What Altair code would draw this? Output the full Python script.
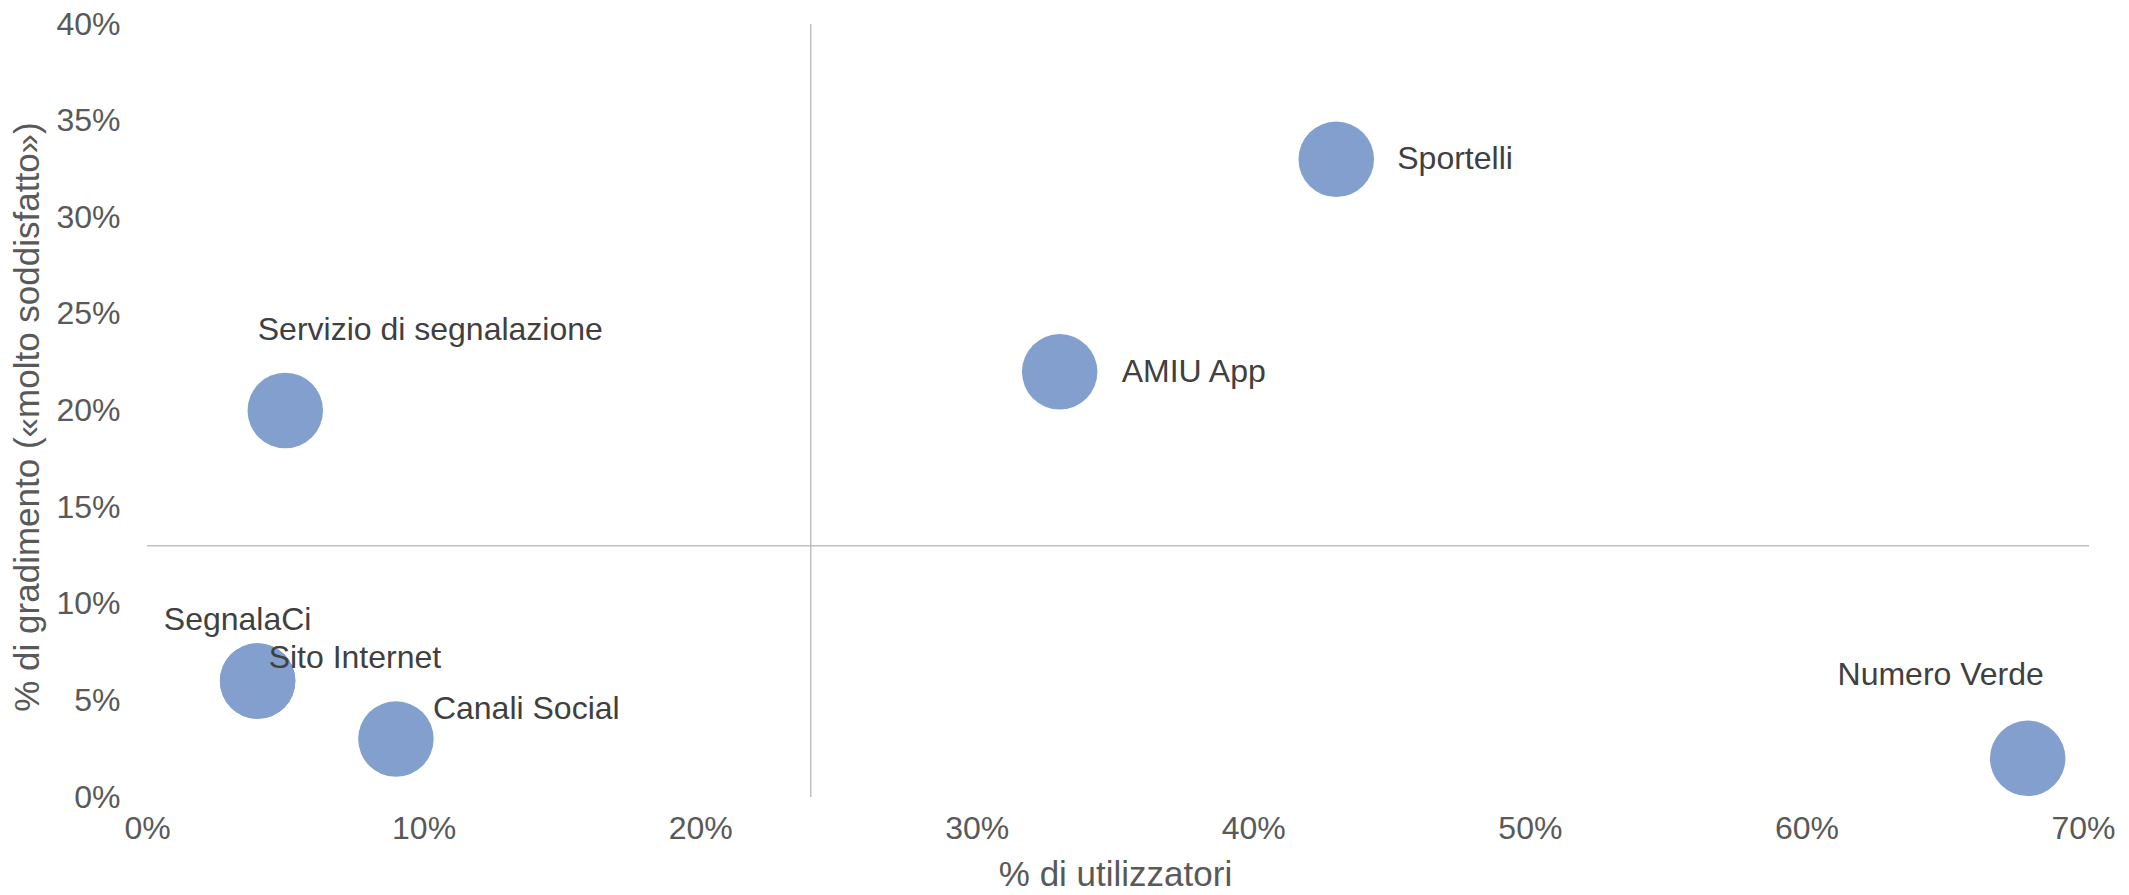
import altair as alt
import pandas as pd

# ---- data ----
canali = ["Sportelli", "AMIU App", "Servizio di segnalazione", "SegnalaCi",
          "Sito Internet", "Canali Social", "Numero Verde"]
utilizzatori = [43, 33, 5, 4, 4, 9, 68]      # % di utilizzatori
gradimento = [33, 22, 20, 6, 6, 3, 2]        # % molto soddisfatto
x_ticks = [0, 10, 20, 30, 40, 50, 60, 70]
y_ticks = [0, 5, 10, 15, 20, 25, 30, 35, 40]
soglia_x = [24]
soglia_y = [13]

df = pd.DataFrame({"canale": canali, "utilizzatori": utilizzatori, "gradimento": gradimento})
df_vx = pd.DataFrame({"v": soglia_x})
df_hy = pd.DataFrame({"v": soglia_y})

FONT = "Liberation Sans"
W, H = 1936, 773

xs = alt.Scale(domain=[0, 70], nice=False, zero=False)
ys = alt.Scale(domain=[0, 40], nice=False, zero=False)

x_axis = alt.Axis(values=x_ticks, labelExpr="datum.value + '%'", title="% di utilizzatori",
                  domain=False, ticks=False, grid=False, labelPadding=16, labelFlush=False,
                  labelFontSize=32, labelFont=FONT, labelColor="#595959",
                  titleFontSize=35, titleFont=FONT, titleColor="#595959", titleFontWeight="normal",
                  titleX=W / 2, titleY=77, titleBaseline="middle", titleAlign="center")
y_axis = alt.Axis(values=y_ticks, labelExpr="datum.value + '%'", title="% di gradimento («molto soddisfatto»)",
                  domain=False, ticks=False, grid=False, labelPadding=27, labelFlush=False,
                  labelFontSize=32, labelFont=FONT, labelColor="#595959",
                  titleFontSize=35, titleFont=FONT, titleColor="#595959", titleFontWeight="normal",
                  titleX=-120, titleY=H / 2 + 6, titleAngle=-90, titleBaseline="middle", titleAlign="center")

base = alt.Chart(df)

points = base.mark_circle(size=5700, opacity=1, color="#839FCE").encode(
    x=alt.X("utilizzatori:Q", scale=xs, axis=x_axis),
    y=alt.Y("gradimento:Q", scale=ys, axis=y_axis),
)

vline = alt.Chart(df_vx).mark_rule(color="#BFBFBF", strokeWidth=1.5).encode(
    x=alt.X("v:Q", scale=xs), y=alt.value(0), y2=alt.value(H)
)
hline = alt.Chart(df_hy).mark_rule(color="#BFBFBF", strokeWidth=1.5).encode(
    y=alt.Y("v:Q", scale=ys), x=alt.value(0), x2=alt.value(W + 6)
)

# label placement (style only)
placement = {
    "Sportelli": (61, 0, "left"),
    "AMIU App": (62, 0, "left"),
    "Servizio di segnalazione": (145, -81, "center"),
    "SegnalaCi": (-20, -61, "center"),
    "Sito Internet": (11, -23, "left"),
    "Canali Social": (37, -30, "left"),
    "Numero Verde": (-87, -83, "center"),
}

labels = []
for nome, (dx, dy, al) in placement.items():
    labels.append(
        base.transform_filter(alt.datum.canale == nome).mark_text(
            dx=dx, dy=dy, align=al, baseline="middle", font=FONT, fontSize=32, color="#404040"
        ).encode(x=alt.X("utilizzatori:Q", scale=xs), y=alt.Y("gradimento:Q", scale=ys), text="canale:N")
    )

chart = alt.layer(hline, vline, points, *labels).properties(
    width=W, height=H,
    background="white",
    autosize=alt.AutoSizeParams(type="none"),
    padding={"left": 139, "top": 16, "right": 38, "bottom": 90},
).configure_view(stroke=None)

chart.save("out.html", embed_options={"renderer": "svg", "actions": False})
